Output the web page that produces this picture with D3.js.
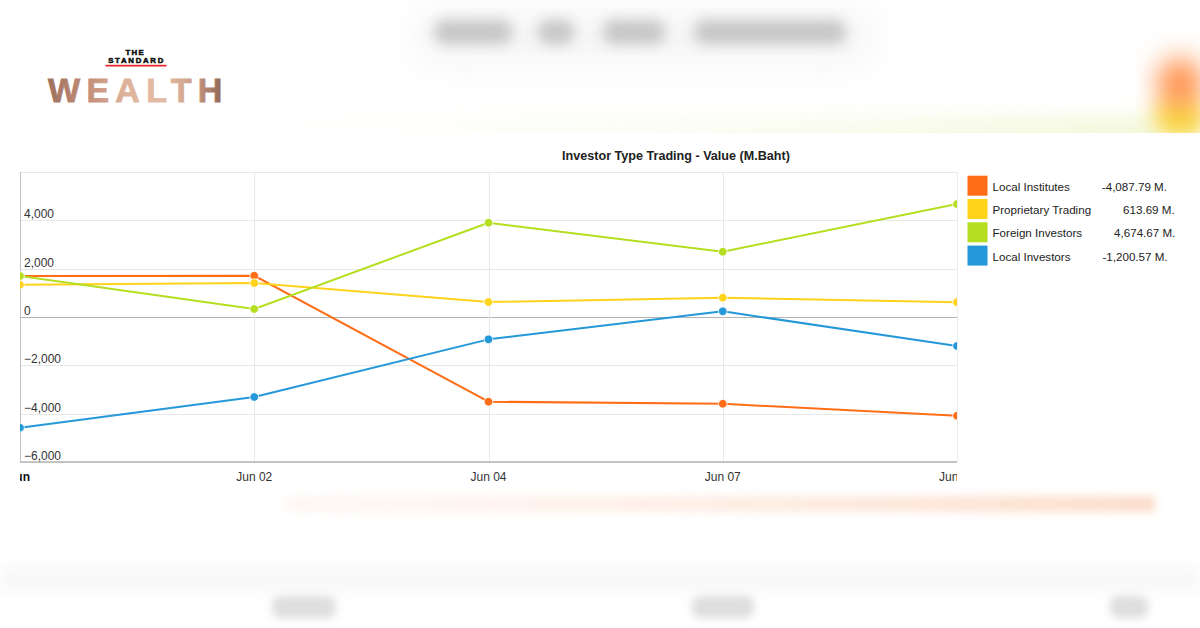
<!DOCTYPE html>
<html>
<head>
<meta charset="utf-8">
<script src="https://cdn.jsdelivr.net/npm/d3@7/dist/d3.min.js"></script>
<style>
  html, body { margin: 0; padding: 0; background: #fff; }
  svg { display: block; }
  text { font-family: "Liberation Sans", Arial, sans-serif; }
</style>
</head>
<body>
<svg id="chart" width="1200" height="628"></svg>
<script>
// ---------- DATA ----------
const categories = ["Jun 01", "Jun 02", "Jun 04", "Jun 07", "Jun 08"];
const seriesNames = ["Local Institutes", "Proprietary Trading", "Foreign Investors", "Local Investors"];
const localInstitutes = [1700, 1710, -3505, -3590, -4087.79];
const proprietaryTrading = [1335, 1405, 620, 800, 613.69];
const foreignInvestors = [1700, 330, 3900, 2700, 4674.67];
const localInvestors = [-4580, -3310, -925, 235, -1200.57];
const legendValues = ["-4,087.79 M.", "613.69 M.", "4,674.67 M.", "-1,200.57 M."];
const seriesColors = ["#ff6d17", "#ffd21c", "#b5de20", "#2498d8"];
const yTicks = [-6000, -4000, -2000, 0, 2000, 4000];
const chartTitle = "Investor Type Trading - Value (M.Baht)";

const allSeries = [localInstitutes, proprietaryTrading, foreignInvestors, localInvestors];

// ---------- SETUP ----------
const svg = d3.select("#chart");
const defs = svg.append("defs");

function blur(id, sd) {
  defs.append("filter").attr("id", id)
    .attr("x", "-50%").attr("y", "-50%").attr("width", "200%").attr("height", "200%")
    .append("feGaussianBlur").attr("stdDeviation", sd);
}
blur("b4", 4); blur("b7", 7); blur("b10", 10); blur("b14", 14); blur("b20", 20);

// ---------- BLURRED BACKGROUND ----------
const bg = svg.append("g");
// header halo
bg.append("rect").attr("x", 420).attr("y", 12).attr("width", 450).attr("height", 50)
  .attr("fill", "#f4f4f4").attr("filter", "url(#b20)");
// blurred headline words
[[434, 78], [538, 36], [603, 62], [694, 152]].forEach(([x, w]) => {
  bg.append("rect").attr("x", x).attr("y", 20).attr("width", w).attr("height", 24)
    .attr("rx", 10).attr("fill", "#c6c6c6").attr("filter", "url(#b7)");
});
// top-right glow (cut at y=133)
defs.append("clipPath").attr("id", "topclip").append("rect")
  .attr("x", 0).attr("y", 0).attr("width", 1200).attr("height", 133);
const glow = bg.append("g").attr("clip-path", "url(#topclip)");
const gg = defs.append("linearGradient").attr("id", "ygrad").attr("x1", 0).attr("x2", 1);
gg.append("stop").attr("offset", 0).attr("stop-color", "#f8faec").attr("stop-opacity", 0);
gg.append("stop").attr("offset", 0.6).attr("stop-color", "#f6f9e2").attr("stop-opacity", 0.55);
gg.append("stop").attr("offset", 1).attr("stop-color", "#f1f6d0").attr("stop-opacity", 0.8);
glow.append("rect").attr("x", 240).attr("y", 116).attr("width", 920).attr("height", 36)
  .attr("fill", "url(#ygrad)").attr("filter", "url(#b10)");
glow.append("ellipse").attr("cx", 1180).attr("cy", 118).attr("rx", 26).attr("ry", 22)
  .attr("fill", "#f8dc4c").attr("filter", "url(#b10)");
glow.append("ellipse").attr("cx", 1180).attr("cy", 84).attr("rx", 22).attr("ry", 26)
  .attr("fill", "#ff8a40").attr("filter", "url(#b14)");

// bottom orange band
const og = defs.append("linearGradient").attr("id", "ograd").attr("x1", 0).attr("x2", 1);
og.append("stop").attr("offset", 0).attr("stop-color", "#ffe9dc").attr("stop-opacity", 0.3);
og.append("stop").attr("offset", 0.5).attr("stop-color", "#fde6d8").attr("stop-opacity", 0.7);
og.append("stop").attr("offset", 1).attr("stop-color", "#fcd9c4").attr("stop-opacity", 0.9);
bg.append("rect").attr("x", 285).attr("y", 496).attr("width", 870).attr("height", 16)
  .attr("fill", "url(#ograd)").attr("filter", "url(#b4)");
// faint gray band
bg.append("rect").attr("x", 0).attr("y", 566).attr("width", 1200).attr("height", 26)
  .attr("fill", "#f8f8f8").attr("filter", "url(#b7)");
// gray blobs at bottom
[[272, 64], [692, 62], [1110, 38]].forEach(([x, w]) => {
  bg.append("rect").attr("x", x).attr("y", 596).attr("width", w).attr("height", 22)
    .attr("rx", 8).attr("fill", "#dedede").attr("filter", "url(#b4)");
});

// ---------- LOGO ----------
const logo = svg.append("g");
logo.append("text").attr("x", 135.3).attr("y", 55.0).attr("text-anchor", "middle")
  .attr("font-size", 7.8).attr("font-weight", 700).attr("letter-spacing", 1.4)
  .attr("fill", "#111").attr("stroke", "#111").attr("stroke-width", 0.55)
  .text("THE");
logo.append("text").attr("x", 136.6).attr("y", 63.4).attr("text-anchor", "middle")
  .attr("font-size", 7.8).attr("font-weight", 700).attr("letter-spacing", 1.7)
  .attr("fill", "#111").attr("stroke", "#111").attr("stroke-width", 0.55)
  .text("STANDARD");
logo.append("rect").attr("x", 105.5).attr("y", 64.8).attr("width", 61).attr("height", 1.7)
  .attr("fill", "#e8202a");
const wg = defs.append("linearGradient").attr("id", "wgrad")
  .attr("gradientUnits", "userSpaceOnUse").attr("x1", 48).attr("x2", 225).attr("y1", 0).attr("y2", 0);
[[0, "#a0715f"], [0.25, "#c6937d"], [0.45, "#e0b49c"], [0.65, "#e4bca4"], [0.82, "#cc9e88"], [1, "#8d604f"]]
  .forEach(([o, c]) => wg.append("stop").attr("offset", o).attr("stop-color", c));
logo.append("text").attr("x", 48).attr("y", 101.7)
  .attr("font-size", 34).attr("font-weight", 700).attr("letter-spacing", 6.3)
  .attr("fill", "url(#wgrad)").attr("stroke", "url(#wgrad)").attr("stroke-width", 0.8)
  .text("WEALTH");

// ---------- CHART ----------
const plot = { left: 20, right: 957, top: 172, bottom: 462 };
const x = d3.scalePoint().domain(categories).range([plot.left, plot.right]);
const y = d3.scaleLinear().domain([-6000, 6000]).range([plot.bottom, plot.top]);

// title
svg.append("text").attr("x", 676).attr("y", 159.5).attr("text-anchor", "middle")
  .attr("font-size", 12.6).attr("font-weight", 700).attr("fill", "#222").text(chartTitle);

// horizontal grid
const grid = svg.append("g");
grid.append("g").attr("transform", `translate(${plot.left},0)`)
  .call(d3.axisLeft(y).tickValues(yTicks.concat([6000])).tickSize(-(plot.right - plot.left)).tickFormat(""))
  .call(g => g.select(".domain").remove())
  .call(g => g.selectAll(".tick line").attr("stroke", d => d === 0 ? "#b4b4b4" : "#e8e8e8")
    .attr("stroke-width", 1).attr("shape-rendering", "crispEdges"));
// vertical grid
grid.append("g").attr("transform", `translate(0,${plot.bottom})`)
  .call(d3.axisBottom(x).tickSize(-(plot.bottom - plot.top)).tickFormat(""))
  .call(g => g.select(".domain").remove())
  .call(g => g.selectAll(".tick line").attr("stroke", "#e8e8e8").attr("shape-rendering", "crispEdges"));
// right border
grid.append("line").attr("x1", plot.right + 0.5).attr("x2", plot.right + 0.5)
  .attr("y1", plot.top).attr("y2", plot.bottom).attr("stroke", "#ececec");

// left axis line
svg.append("line").attr("x1", plot.left + 0.5).attr("x2", plot.left + 0.5)
  .attr("y1", plot.top).attr("y2", plot.bottom).attr("stroke", "#c2c2c2");
// bottom axis line
svg.append("line").attr("x1", plot.left).attr("x2", plot.right)
  .attr("y1", plot.bottom).attr("y2", plot.bottom).attr("stroke", "#b4b4b4").attr("stroke-width", 1.6);

// y labels (inside plot, above grid lines)
svg.append("g").selectAll("text").data(yTicks).join("text")
  .attr("x", plot.left + 4).attr("y", d => y(d) - 2)
  .attr("font-size", 12).attr("fill", "#333")
  .text(d => d3.format(",")(d));

// x labels, clipped to plot width
defs.append("clipPath").attr("id", "xlabclip").append("rect")
  .attr("x", plot.left).attr("y", plot.bottom).attr("width", plot.right - plot.left).attr("height", 40);
svg.append("g").attr("clip-path", "url(#xlabclip)").selectAll("text").data(categories).join("text")
  .attr("x", (d, i) => i === 0 ? x(d) + 10 : x(d))
  .attr("y", 481)
  .attr("text-anchor", (d, i) => i === 0 ? "end" : "middle")
  .attr("font-size", 12).attr("fill", (d, i) => i === 0 ? "#111" : "#333")
  .attr("font-weight", (d, i) => i === 0 ? 700 : 400)
  .text((d, i) => i === 0 ? d.split(" ")[0] : d);

// series (clipped to plot)
defs.append("clipPath").attr("id", "plotclip").append("rect")
  .attr("x", plot.left).attr("y", plot.top - 10).attr("width", plot.right - plot.left).attr("height", plot.bottom - plot.top + 20);
const seriesG = svg.append("g").attr("clip-path", "url(#plotclip)");
const line = d3.line().x((d, i) => x(categories[i])).y(d => y(d));
allSeries.forEach((vals, si) => {
  const g = seriesG.append("g");
  g.append("path").datum(vals).attr("d", line).attr("fill", "none")
    .attr("stroke", seriesColors[si]).attr("stroke-width", 2).attr("stroke-linejoin", "round");
  g.selectAll("circle").data(vals).join("circle")
    .attr("cx", (d, i) => x(categories[i])).attr("cy", d => y(d)).attr("r", 4.3)
    .attr("fill", seriesColors[si]).attr("stroke", "#fff").attr("stroke-width", 0.8);
});

// legend
const legend = svg.append("g").attr("transform", "translate(967.5,175.7)");
seriesNames.forEach((name, i) => {
  const row = legend.append("g").attr("transform", `translate(0,${i * 23.3})`);
  row.append("rect").attr("width", 20).attr("height", 20).attr("fill", seriesColors[i]);
  const t = row.append("text").attr("x", 25).attr("y", 15).attr("font-size", 11.6).attr("fill", "#222");
  t.append("tspan").text(name);
  t.append("tspan").attr("dx", 32).text(legendValues[i]);
});
</script>
</body>
</html>
